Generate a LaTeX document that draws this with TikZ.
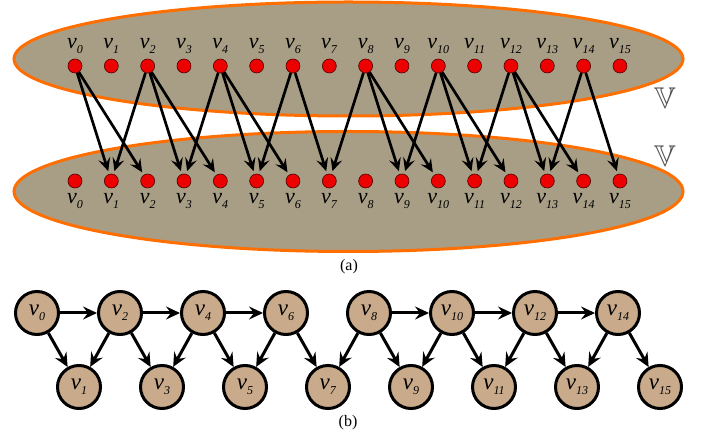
\documentclass[tikz,border=0pt]{standalone}
\usepackage{amssymb}
\usepackage{fontspec}
\setmainfont{Liberation Serif}
\usetikzlibrary{arrows.meta}

\definecolor{setfill}{RGB}{168,158,133}
\definecolor{setline}{RGB}{255,110,0}
\definecolor{dotred}{RGB}{236,0,0}
\definecolor{nodetan}{RGB}{201,170,139}
\definecolor{setmark}{RGB}{80,80,80}

% vertex label: italic v with italic subscript index
\newcommand{\vlab}[1]{\textit{v}\raisebox{-5pt}{\fontsize{12pt}{12pt}\selectfont\textit{#1}}}

\tikzset{
  vset/.style={draw=setline, line width=3pt, fill=setfill},
  dot/.style={circle, draw=black!70!red, line width=0.6pt, fill=dotred, minimum size=14pt, inner sep=0pt},
  lab/.style={font=\fontsize{22pt}{22pt}\selectfont, inner sep=0pt, anchor=base},
  bip/.style={line width=2.7pt, -{Stealth[length=13pt,width=12pt,inset=5pt]}, shorten >=3pt},
  vnode/.style={circle, draw=black, line width=3pt, fill=nodetan, minimum size=43pt, inner sep=0pt,
    font=\fontsize{23pt}{23pt}\selectfont},
  dag/.style={line width=3pt, -{Stealth[length=14pt,width=13pt,inset=5pt]}},
  caption/.style={font=\fontsize{16pt}{16pt}\selectfont, inner sep=0pt},
  setname/.style={text=setmark, font=\fontsize{30pt}{30pt}\selectfont, inner sep=0pt}
}

\begin{document}
\begin{tikzpicture}[x=1pt,y=-1pt]
\useasboundingbox (0,0) rectangle (701,435);

% ---------- (a) the two vertex sets ----------
\path[vset] (348.5,59) ellipse [x radius=334.5pt, y radius=57pt];
\path[vset] (348.5,191.5) ellipse [x radius=334.5pt, y radius=60pt];

\node[setname] (setA) at (665,98) {$\mathbb{V}$};
\node[setname] (setB) at (665,156) {$\mathbb{V}$};

\foreach \i in {0,...,15}{
  \node[dot] (t\i) at ({75+36.33*\i},66) {};
  \node[lab] (tl\i) at ({75+36.33*\i},49) {\vlab{\i}};
  \node[dot] (b\i) at ({75+36.33*\i},181) {};
  \node[lab] (bl\i) at ({75+36.33*\i},204) {\vlab{\i}};
}

\foreach \s/\t in {0/1,0/2,2/1,2/3,2/4,4/3,4/5,4/6,6/5,6/7,
                   8/7,8/9,8/10,10/9,10/11,10/12,12/11,12/13,12/14,14/13,14/15}{
  \draw[bip] (t\s) -- (b\t);
}

\node[caption] (capa) at (349,267) {(a)};

% ---------- (b) the DAG ----------
\foreach \k in {0,...,7}{
  \pgfmathtruncatemacro{\ev}{2*\k}
  \pgfmathtruncatemacro{\od}{2*\k+1}
  \node[vnode] (e\ev) at ({37+83*\k},313) {\vlab{\ev}};
  \node[vnode] (e\od) at ({79+83*\k},387) {\vlab{\od}};
}

\foreach \s/\t in {0/2,2/4,4/6,8/10,10/12,12/14}{
  \draw[dag] (e\s) -- (e\t);
}
\foreach \s/\t in {0/1,2/1,2/3,4/3,4/5,6/5,6/7,8/7,8/9,10/9,10/11,12/11,12/13,14/13,14/15}{
  \draw[dag] (e\s) -- (e\t);
}

\node[caption] (capb) at (348,423) {(b)};
\end{tikzpicture}
\end{document}
